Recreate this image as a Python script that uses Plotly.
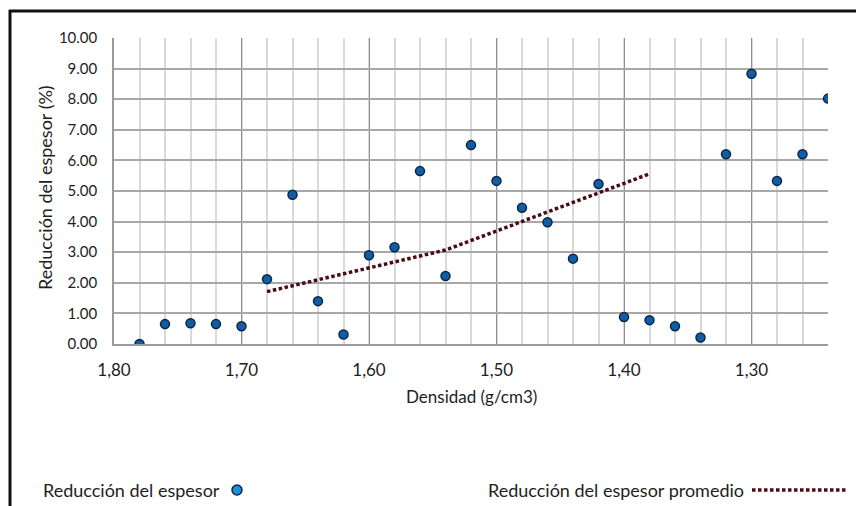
import plotly.graph_objects as go

# Density (g/cm3) of each specimen and its measured thickness reduction (%)
densidad = [1.78, 1.76, 1.74, 1.72, 1.70, 1.68, 1.66, 1.64, 1.62, 1.60,
            1.58, 1.56, 1.54, 1.52, 1.50, 1.48, 1.46, 1.44, 1.42, 1.40,
            1.38, 1.36, 1.34, 1.32, 1.30, 1.28, 1.26, 1.24]
reduccion = [0.00, 0.65, 0.68, 0.65, 0.58, 2.12, 4.88, 1.40, 0.31, 2.90,
             3.16, 5.65, 2.22, 6.50, 5.33, 4.45, 3.98, 2.79, 5.23, 0.88,
             0.78, 0.58, 0.21, 6.20, 8.83, 5.33, 6.20, 8.02]

# Average thickness-reduction curve
densidad_prom = [1.68, 1.54, 1.38]
reduccion_prom = [1.71, 3.07, 5.56]

x_ticks = [1.80, 1.70, 1.60, 1.50, 1.40, 1.30]
x_ticktext = ["1,80", "1,70", "1,60", "1,50", "1,40", "1,30"]
y_ticks = [0, 1, 2, 3, 4, 5, 6, 7, 8, 9, 10]
y_ticktext = ["%.2f" % v for v in y_ticks]

FONT = "Lato, 'Open Sans', sans-serif"
TXT = "#1e1e1e"

# plot-area geometry in pixels (used to place legend / frame items in paper units)
W, H = 856, 506
L, R, T, B = 114, 28, 38, 162
PW, PH = W - L - R, H - T - B


def px(xpix):
    return (xpix - L) / PW


def py(ypix):
    return (H - B - ypix) / PH


fig = go.Figure()

fig.add_trace(go.Scatter(
    x=densidad_prom, y=reduccion_prom, mode="lines",
    name="Reducción del espesor promedio",
    line=dict(color="#4a0c13", width=3.5, dash="3.5px,2.5px"),
    showlegend=False,
))

fig.add_trace(go.Scatter(
    x=densidad, y=reduccion, mode="markers",
    name="Reducción del espesor",
    marker=dict(size=9, color="#0f5ea4", line=dict(color="#0c2547", width=1.5)),
    showlegend=False,
))

fig.update_layout(
    width=W, height=H,
    margin=dict(l=L, r=R, t=T, b=B),
    paper_bgcolor="white", plot_bgcolor="white",
    font=dict(family=FONT, color=TXT, size=15),
    xaxis=dict(
        range=[1.80, 1.24], autorange=False,
        tickvals=x_ticks, ticktext=x_ticktext,
        showgrid=True, gridcolor="#8f8f8f", gridwidth=1,
        minor=dict(tick0=1.24, dtick=0.02, showgrid=True,
                   gridcolor="#d9d9d9", gridwidth=2),
        showline=True, linecolor="#9a9a9a", linewidth=1.5,
        ticks="", zeroline=False,
        tickfont=dict(size=17, color=TXT),
        ticklabelstandoff=10,
    ),
    yaxis=dict(
        range=[0, 10], autorange=False,
        tickvals=y_ticks, ticktext=y_ticktext,
        showgrid=True, gridcolor="#a8a8a8", gridwidth=2,
        showline=True, linecolor="#9a9a9a", linewidth=1.5,
        ticks="", zeroline=False,
        tickfont=dict(size=15, color=TXT),
        ticklabelstandoff=12,
    ),
)

annotations = [
    dict(text="Reducción del espesor (%)", x=px(45), y=py(188), textangle=-90,
         font=dict(size=18, color=TXT)),
    dict(text="Densidad (g/cm3)", x=px(471), y=py(396),
         font=dict(size=17, color=TXT)),
    dict(text="Reducción del espesor", x=px(41), y=py(490), xanchor="left",
         font=dict(size=18, color=TXT)),
    dict(text="Reducción del espesor promedio", x=px(746), y=py(490), xanchor="right",
         font=dict(size=18, color=TXT)),
]
for a in annotations:
    a.update(xref="paper", yref="paper", showarrow=False)
    a.setdefault("xanchor", "center")
    a.setdefault("yanchor", "middle")
fig.update_layout(annotations=annotations)

shapes = [
    # legend symbols
    dict(type="circle", xref="paper", yref="paper", xsizemode="pixel", ysizemode="pixel",
         xanchor=px(237), yanchor=py(490), x0=-5, x1=5, y0=-5, y1=5,
         fillcolor="#1b8fdc", line=dict(color="#0c2547", width=1.5)),
    dict(type="line", xref="paper", yref="paper",
         x0=px(752), x1=px(846), y0=py(490), y1=py(490),
         line=dict(color="#4a0c13", width=3.5, dash="3.5px,2.5px")),
    # outer frame (top and left)
    dict(type="line", xref="paper", yref="paper",
         x0=px(9), x1=px(860), y0=py(11), y1=py(11),
         line=dict(color="#111111", width=3)),
    dict(type="line", xref="paper", yref="paper",
         x0=px(10), x1=px(10), y0=py(10), y1=py(510),
         line=dict(color="#111111", width=3)),
]
fig.update_layout(shapes=shapes)

fig.write_html("out.html")
